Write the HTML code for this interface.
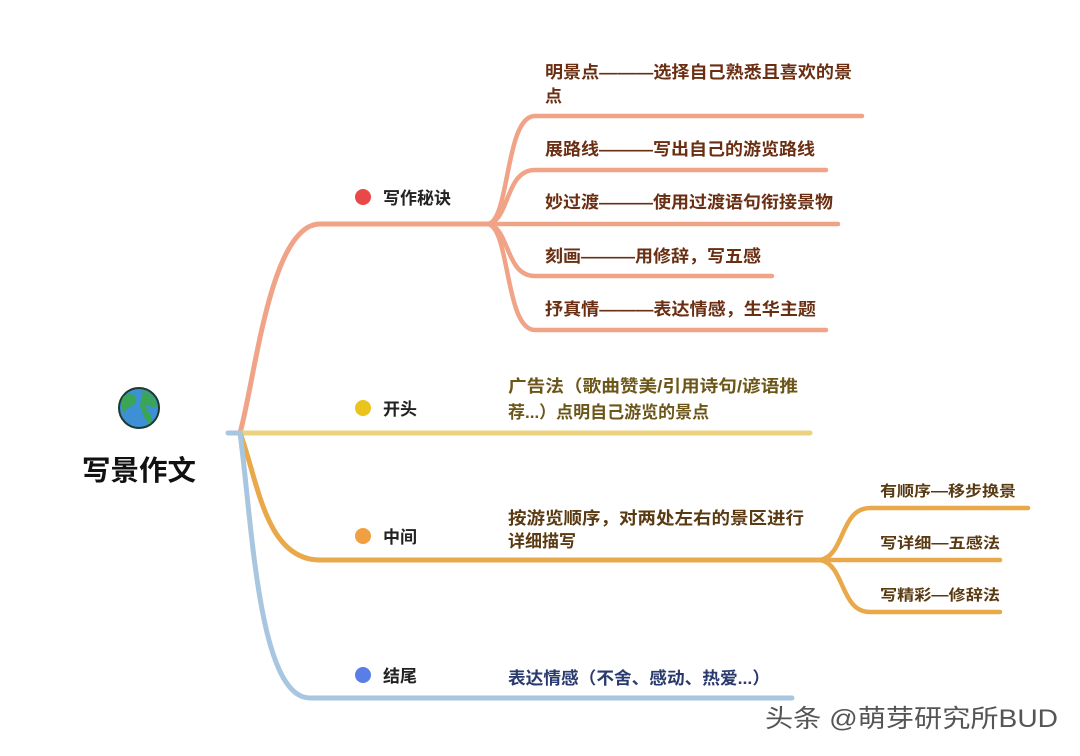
<!DOCTYPE html>
<html><head><meta charset="utf-8"><style>
html,body{margin:0;padding:0;background:#fff;}
svg{display:block;}
text{font-family:"Liberation Sans","Noto Sans CJK SC",sans-serif;}
</style></head><body>
<svg width="1080" height="756" viewBox="0 0 1080 756" xmlns="http://www.w3.org/2000/svg">
<g fill="none" stroke-linecap="round">
 <path d="M240,433 C255,380 270,224 320,224 L488,224" stroke="#f0a386" stroke-width="5"/>
 <path d="M488,224 C510,220 505,116 535,116 L862,116" stroke="#f0a386" stroke-width="4.5"/>
 <path d="M488,224 C510,220 505,170 535,170 L826,170" stroke="#f0a386" stroke-width="4.5"/>
 <path d="M488,224 L838,224" stroke="#f0a386" stroke-width="4.5"/>
 <path d="M488,224 C510,228 505,276 535,276 L772,276" stroke="#f0a386" stroke-width="4.5"/>
 <path d="M488,224 C510,228 505,330 535,330 L826,330" stroke="#f0a386" stroke-width="4.5"/>
 <path d="M240,433 L810,433" stroke="#ecd27e" stroke-width="5"/>
 <path d="M240,433 C258,480 265,560 320,560 L820,560" stroke="#e9a84a" stroke-width="5"/>
 <path d="M820,560 C845,556 840,508 870,508 L1028,508" stroke="#e9a84a" stroke-width="4.5"/>
 <path d="M820,560 L1000,560" stroke="#e9a84a" stroke-width="4.5"/>
 <path d="M820,560 C845,564 840,612 870,612 L1000,612" stroke="#e9a84a" stroke-width="4.5"/>
 <path d="M240,433 C252,520 258,698 310,698 L792,698" stroke="#a9c6e0" stroke-width="5"/>
 <path d="M228,433 L240,433" stroke="#a9c6e0" stroke-width="5"/>
</g>
<circle cx="139" cy="408" r="20" fill="#3d8fd6" stroke="#1d3b2c" stroke-width="2"/>
<path d="M124,396 C130,392 138,394 136,402 C133,408 126,406 124,414 C121,408 120,400 124,396Z" fill="#3aa556"/>
<path d="M142,390 C150,392 156,398 157,406 C152,410 150,404 146,406 C148,414 156,418 150,424 C144,420 142,412 140,406 C140,400 144,396 142,390Z" fill="#3aa556"/>
<text x="139" y="480" font-size="28" font-weight="700" text-anchor="middle" fill="#111" textLength="114" lengthAdjust="spacingAndGlyphs">写景作文</text>
<circle cx="363" cy="197" r="8" fill="#e84848"/>
<text x="383" y="204" font-size="17" font-weight="700" fill="#222">写作秘诀</text>
<circle cx="363" cy="408" r="8" fill="#e8c41c"/>
<text x="383" y="415" font-size="17" font-weight="700" fill="#222">开头</text>
<circle cx="363" cy="536" r="8" fill="#f0a040"/>
<text x="383" y="543" font-size="17" font-weight="700" fill="#222">中间</text>
<circle cx="363" cy="675" r="8" fill="#5a7ee8"/>
<text x="383" y="682" font-size="17" font-weight="700" fill="#222">结尾</text>
<g font-size="17" font-weight="700" fill="#6a2e12">
<text x="545" y="78" textLength="307" lengthAdjust="spacingAndGlyphs">明景点———选择自己熟悉且喜欢的景</text>
<text x="545" y="102">点</text>
<text x="545" y="155" textLength="270" lengthAdjust="spacingAndGlyphs">展路线———写出自己的游览路线</text>
<text x="545" y="208" textLength="288" lengthAdjust="spacingAndGlyphs">妙过渡———使用过渡语句衔接景物</text>
<text x="545" y="262" textLength="216" lengthAdjust="spacingAndGlyphs">刻画———用修辞，写五感</text>
<text x="545" y="315" textLength="271" lengthAdjust="spacingAndGlyphs">抒真情———表达情感，生华主题</text>
</g>
<g font-size="17" font-weight="700" fill="#6b5618">
<text x="508" y="392" textLength="290" lengthAdjust="spacingAndGlyphs">广告法（歌曲赞美/引用诗句/谚语推</text>
<text x="508" y="418">荐...）点明自己游览的景点</text>
</g>
<g font-size="17" font-weight="700" fill="#5a3a12">
<text x="508" y="524" textLength="296" lengthAdjust="spacingAndGlyphs">按游览顺序，对两处左右的景区进行</text>
<text x="508" y="547">详细描写</text>
</g>
<g font-size="15" font-weight="700" fill="#5a3a12">
<text x="880" y="496" textLength="136" lengthAdjust="spacingAndGlyphs">有顺序—移步换景</text>
<text x="880" y="548" textLength="120" lengthAdjust="spacingAndGlyphs">写详细—五感法</text>
<text x="880" y="600" textLength="120" lengthAdjust="spacingAndGlyphs">写精彩—修辞法</text>
</g>
<text x="508" y="684" font-size="17" font-weight="700" fill="#2b3a6e" textLength="262" lengthAdjust="spacingAndGlyphs">表达情感（不舍、感动、热爱...）</text>
<text x="765" y="727" font-size="25" fill="#555" textLength="293" lengthAdjust="spacingAndGlyphs">头条 @萌芽研究所BUD</text>
</svg>
</body></html>
